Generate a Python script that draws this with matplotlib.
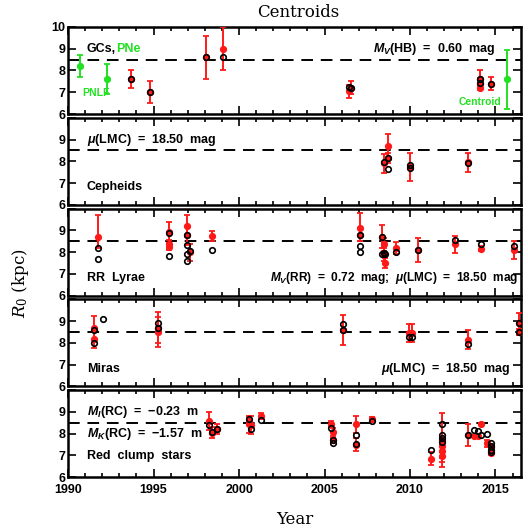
import matplotlib
matplotlib.use("Agg")
import matplotlib.pyplot as plt
from matplotlib.ticker import MultipleLocator

plt.rcParams['font.family'] = ['Liberation Sans', 'DejaVu Sans']
plt.rcParams['mathtext.fontset'] = 'custom'
plt.rcParams['mathtext.rm'] = 'Liberation Sans:bold'
plt.rcParams['mathtext.it'] = 'Liberation Sans:italic:bold'
plt.rcParams['mathtext.bf'] = 'Liberation Sans:bold'

RED = '#ff1a1a'
GREEN = '#22e022'

# ---------------- data ----------------
gc_green_x = [1990.7, 1992.3, 2015.7]
gc_green_y = [8.2, 7.6, 7.6]
gc_green_err = [0.5, 0.7, 1.35]
gc_red_x = [1993.7, 1994.8, 1998.05, 1999.05, 2006.45, 2006.55, 2014.1, 2014.1, 2014.1, 2014.75]
gc_red_y = [7.6, 7.0, 8.6, 9.0, 7.05, 7.2, 7.6, 7.4, 7.2, 7.4]
gc_red_err = [0.4, 0.5, 1.0, 1.0, 0.3, 0.3, 0.4, 0.25, 0.1, 0.3]
gc_blk_x = [1993.7, 1994.8, 1998.05, 1999.05, 2006.45, 2006.55, 2014.1, 2014.1, 2014.75]
gc_blk_y = [7.6, 7.0, 8.6, 8.6, 7.22, 7.2, 7.62, 7.42, 7.4]

cep_red_x = [2008.5, 2008.72, 2008.72, 2009.97, 2013.4]
cep_red_y = [7.9, 8.7, 8.15, 7.75, 7.95]
cep_red_err = [0.45, 0.55, 0.25, 0.65, 0.45]
cep_blk_x = [2008.5, 2008.72, 2008.72, 2009.97, 2009.97, 2013.4]
cep_blk_y = [7.96, 8.17, 7.63, 7.82, 7.7, 7.93]

rr_red_x = [1991.75, 1995.9, 1995.9, 1995.9, 1996.95, 1996.95, 1997.15, 1998.4, 2007.05, 2007.05,
            2008.35, 2008.5, 2008.5, 2008.55, 2009.2, 2010.45, 2012.65, 2014.15, 2016.1]
rr_red_y = [8.7, 8.9, 8.35, 8.25, 9.2, 8.77, 8.0, 8.73, 9.1, 8.8,
            8.7, 8.35, 7.9, 7.5, 8.2, 8.1, 8.35, 8.15, 8.1]
rr_red_lo = [0.5, 0.5, 0.2, 0.15, 0.5, 0.45, 0.4, 0.23, 0.6, 0.3,
             0.5, 0.3, 0.3, 0.25, 0.28, 0.55, 0.4, 0.12, 0.4]
rr_red_hi = [1.0, 0.5, 0.2, 0.15, 0.5, 0.45, 0.35, 0.23, 0.7, 0.3,
             0.55, 0.3, 0.3, 0.25, 0.28, 0.55, 0.4, 0.12, 0.4]
rr_blk_x = [1991.75, 1991.75, 1995.9, 1995.9, 1996.95, 1996.95, 1996.95, 1996.95, 1997.15, 1998.4,
            2007.05, 2007.05, 2007.05, 2008.35, 2008.35, 2008.5, 2008.55, 2009.2, 2010.45, 2012.65,
            2014.15, 2016.1]
rr_blk_y = [8.19, 7.7, 8.88, 7.8, 8.77, 8.31, 7.89, 7.58, 8.07, 8.09,
            8.8, 8.27, 8.02, 8.68, 7.92, 7.95, 7.92, 8.0, 8.1, 8.55,
            8.35, 8.28]

mira_red_x = [1991.5, 1991.5, 1995.25, 1995.25, 2006.1, 2009.95, 2010.1, 2013.4, 2016.35, 2016.35]
mira_red_y = [8.7, 8.2, 8.7, 8.5, 8.6, 8.45, 8.45, 8.15, 8.9, 8.5]
mira_red_err = [0.55, 0.45, 0.7, 0.7, 0.7, 0.4, 0.4, 0.45, 0.45, 0.15]
mira_blk_x = [1991.5, 1991.5, 1992.05, 1995.25, 1995.25, 2006.1, 2006.1, 2009.95, 2010.1, 2013.4, 2016.35, 2016.35]
mira_blk_y = [8.6, 8.0, 9.1, 8.9, 8.7, 8.85, 8.6, 8.25, 8.25, 7.95, 8.9, 8.5]

rc_red_x = [1998.25, 1998.42, 1998.73, 2000.58, 2000.58, 2000.72, 2001.27, 2005.4, 2005.5, 2005.5,
            2006.83, 2006.83, 2007.78, 2011.21, 2011.9, 2011.9, 2011.9, 2011.9, 2013.4, 2013.74,
            2013.98, 2014.17, 2014.52, 2014.75, 2014.75]
rc_red_y = [8.58, 8.05, 8.2, 8.43, 8.6, 8.4, 8.8, 8.46, 8.08, 7.7,
            8.42, 7.5, 8.69, 6.85, 7.7, 7.45, 7.2, 6.95, 7.95, 7.9,
            7.9, 8.45, 7.55, 7.4, 7.1]
rc_red_err = [0.42, 0.25, 0.22, 0.4, 0.15, 0.4, 0.15, 0.1, 0.2, 0.1,
              0.4, 0.3, 0.06, 0.3, 1.25, 0.3, 0.3, 0.25, 0.5, 0.05,
              0.05, 0.05, 0.15, 0.1, 0.1]
rc_blk_x = [1998.25, 1998.42, 1998.73, 2000.58, 2000.72, 2001.27, 2005.4, 2005.5, 2005.5, 2006.83,
            2006.83, 2007.78, 2011.21, 2011.9, 2011.9, 2011.9, 2011.9, 2013.4, 2013.74, 2013.98,
            2014.17, 2014.52, 2014.75, 2014.75, 2014.75, 2014.75]
rc_blk_y = [8.39, 8.08, 8.2, 8.66, 8.23, 8.63, 8.28, 7.69, 7.57, 7.96,
            7.51, 8.58, 7.26, 8.42, 7.93, 7.78, 7.62, 7.96, 8.19, 8.12,
            7.95, 8.0, 7.55, 7.42, 7.27, 7.15]

year_ticks = [1990, 1995, 2000, 2005, 2010, 2015]
r0_ticks = [6, 7, 8, 9, 10]
r0_ref = 8.5

# ---------------- figure ----------------
fig = plt.figure(figsize=(5.28, 5.29), dpi=100)
gs = fig.add_gridspec(5, 1, left=0.129, right=0.987, top=0.949, bottom=0.098, hspace=0.043)
axes = [fig.add_subplot(gs[i]) for i in range(5)]

TXT = dict(fontsize=9, fontweight='bold')
ekw = dict(fmt='o', ms=4.2, lw=1.4, capsize=2.3, capthick=1.3, zorder=3)


def red(ax, x, y, lo, hi=None):
    if hi is None:
        hi = lo
    ax.errorbar(x, y, yerr=[lo, hi], color=RED, mec=RED, mfc=RED, **ekw)


def blk(ax, x, y):
    ax.plot(x, y, 'o', ms=4.0, mfc='none', mec='black', mew=1.2, zorder=5, ls='none')


for i, ax in enumerate(axes):
    ax.set_xlim(1990, 2016.5)
    ax.set_ylim(6, 10)
    ax.axhline(r0_ref, color='black', lw=1.4, dashes=(6, 4), zorder=2)
    ax.set_xticks(year_ticks)
    ax.xaxis.set_minor_locator(MultipleLocator(1))
    ax.set_yticks(r0_ticks)
    ax.set_yticklabels([str(t) if (t < 10 or i == 0) else '' for t in r0_ticks])
    ax.tick_params(which='both', direction='in', top=True, right=True, width=1.2,
                   labelsize=9)
    ax.tick_params(axis='y', pad=2)
    ax.tick_params(axis='x', pad=5)
    ax.tick_params(which='major', length=6)
    ax.tick_params(which='minor', length=3)
    for s in ax.spines.values():
        s.set_linewidth(1.8)
    if i < 4:
        ax.tick_params(labelbottom=False)
    for lab in ax.get_xticklabels() + ax.get_yticklabels():
        lab.set_fontweight('bold')

# Panel 1: GCs
ax = axes[0]
ax.errorbar(gc_green_x, gc_green_y, yerr=gc_green_err, color=GREEN, mec=GREEN, mfc=GREEN, **ekw)
red(ax, gc_red_x, gc_red_y, gc_red_err)
blk(ax, gc_blk_x, gc_blk_y)
ax.text(1991.1, 9.0, 'GCs,', ha='left', va='center', **TXT)
ax.text(1992.8, 9.0, 'PNe', ha='left', va='center', color=GREEN, **TXT)
ax.text(1990.8, 6.95, 'PNLF', ha='left', va='center', color=GREEN, fontsize=7.5, fontweight='bold')
ax.text(2014.1, 6.55, 'Centroid', ha='center', va='center', color=GREEN, fontsize=7.5, fontweight='bold')
ax.text(2015.0, 9.0, r'$M_V$(HB)  =  0.60  mag', ha='right', va='center', **TXT)

# Panel 2: Cepheids
ax = axes[1]
red(ax, cep_red_x, cep_red_y, cep_red_err)
blk(ax, cep_blk_x, cep_blk_y)
ax.text(1991.1, 9.0, r'$\mu$(LMC)  =  18.50  mag', ha='left', va='center', **TXT)
ax.text(1991.1, 6.8, 'Cepheids', ha='left', va='center', **TXT)

# Panel 3: RR Lyrae
ax = axes[2]
red(ax, rr_red_x, rr_red_y, rr_red_lo, rr_red_hi)
blk(ax, rr_blk_x, rr_blk_y)
ax.text(1991.1, 6.8, 'RR  Lyrae', ha='left', va='center', **TXT)
ax.text(2016.35, 6.8, r'$M_V$(RR)  =  0.72  mag;  $\mu$(LMC)  =  18.50  mag', ha='right', va='center',
        fontsize=8.6, fontweight='bold')

# Panel 4: Miras
ax = axes[3]
red(ax, mira_red_x, mira_red_y, mira_red_err)
blk(ax, mira_blk_x, mira_blk_y)
ax.text(1991.1, 6.8, 'Miras', ha='left', va='center', **TXT)
ax.text(2015.9, 6.8, r'$\mu$(LMC)  =  18.50  mag', ha='right', va='center', **TXT)

# Panel 5: Red clump
ax = axes[4]
red(ax, rc_red_x, rc_red_y, rc_red_err)
blk(ax, rc_blk_x, rc_blk_y)
ax.text(1991.1, 9.0, r'$M_I$(RC)  =  $-$0.23  m', ha='left', va='center', **TXT)
ax.text(1991.1, 7.98, r'$M_K$(RC)  =  $-$1.57  m', ha='left', va='center', **TXT)
ax.text(1991.1, 6.95, 'Red  clump  stars', ha='left', va='center', **TXT)

fig.text(0.565, 0.977, 'Centroids', ha='center', va='center', family='DejaVu Serif',
         fontsize=12, fontweight='normal')
fig.text(0.558, 0.018, 'Year', ha='center', va='center', family='DejaVu Serif',
         fontsize=12, fontweight='normal')
fig.text(0.038, 0.465, r'$R_0$ (kpc)', ha='center', va='center', rotation=90,
         family='DejaVu Serif', math_fontfamily='dejavuserif', fontsize=12, fontweight='normal')

fig.savefig('out.png', dpi=100)
